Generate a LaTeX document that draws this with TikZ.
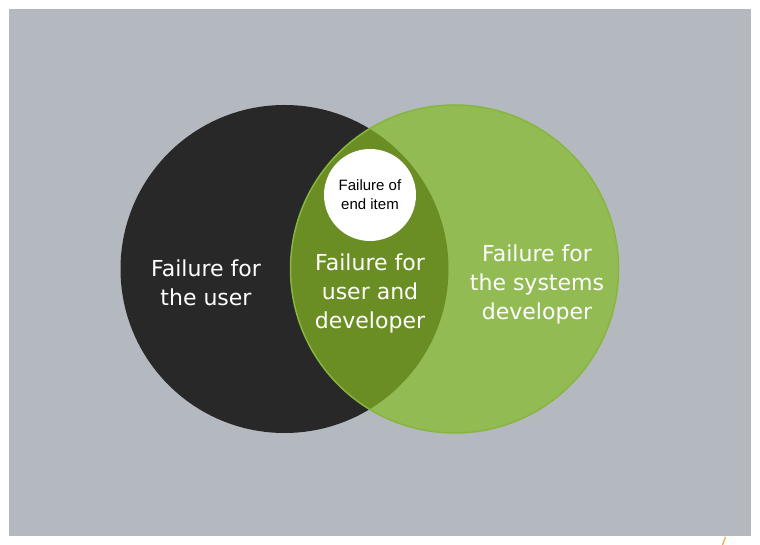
\documentclass[tikz,border=0pt]{standalone}
\usepackage{fontspec}
\setmainfont{DejaVu Sans}
\newfontfamily\arialfont{Liberation Sans}
\definecolor{bggray}{HTML}{B4B8BF}
\definecolor{darkc}{HTML}{282828}
\definecolor{greenc}{HTML}{92BB53}
\definecolor{greenb}{HTML}{86B63E}
\definecolor{interc}{HTML}{6A8E23}
\definecolor{orangec}{HTML}{F5A742}
\tikzset{
  bigtext/.style={text=white, font=\fontsize{22}{29}\selectfont, align=center},
  smalltext/.style={text=black, font=\arialfont\fontsize{15}{19}\selectfont, align=center}
}
\begin{document}
\begin{tikzpicture}[x=1pt,y=1pt]
\useasboundingbox (0,0) rectangle (760,545);
\fill[white] (0,0) rectangle (760,545);
\fill[bggray] (9,9) rectangle (751,536);
% circles
\coordinate (cl) at (284.5,276);
\coordinate (cr) at (454.5,276);
\fill[darkc] (cl) circle (164);
\fill[greenc] (cr) circle (164);
\begin{scope}
  \clip (cl) circle (164);
  \fill[interc] (cr) circle (164);
\end{scope}
\draw[greenb, line width=1.5pt] (cr) circle (164);
\node[circle, fill=white, minimum size=92pt, inner sep=0pt] (end) at (370,350) {};
\node[smalltext] (endt) at (end.center) {Failure of\\end item};
\node[bigtext] (user) at (206,262) {Failure for\\the user};
\node[bigtext] (both) at (370,252) {Failure for\\user and\\developer};
\node[bigtext] (dev) at (537,261) {Failure for\\the systems\\developer};
\draw[orangec, line width=1.2pt] (725.5,8) -- (722.5,0);
\end{tikzpicture}
\end{document}
